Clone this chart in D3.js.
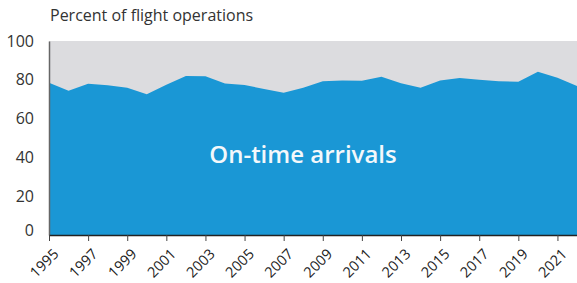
<!DOCTYPE html>
<html><head><meta charset="utf-8">
<script src="https://cdn.jsdelivr.net/npm/d3@7"></script>
<style>body{margin:0;background:#fff}svg{display:block}</style>
</head><body><svg id="c" width="577" height="283"></svg>
<script>
const years = [1995,1996,1997,1998,1999,2000,2001,2002,2003,2004,2005,2006,2007,2008,2009,2010,2011,2012,2013,2014,2015,2016,2017,2018,2019,2020,2021,2022];
const onTime = [78.5,74.3,77.9,77.2,75.9,72.5,77.4,82.0,81.8,78.1,77.3,75.3,73.3,75.9,79.3,79.6,79.5,81.6,78.2,75.9,79.7,80.9,80.0,79.3,79.0,84.2,81.1,76.8];
const yTicks = [0,20,40,60,80,100];
const xTicks = [1995,1997,1999,2001,2003,2005,2007,2009,2011,2013,2015,2017,2019,2021];
const title = "Percent of flight operations";
const areaLabel = "On-time arrivals";

const svg = d3.select("#c");
const font = "'Open Sans', sans-serif";
const x = d3.scaleLinear().domain([1995,2022]).range([49,577]);
const y = d3.scaleLinear().domain([0,100]).range([235,41]);

// background (100%)
svg.append("rect").attr("x",x(1995)).attr("y",y(100)).attr("width",x(2022)-x(1995)).attr("height",y(0)-y(100)).attr("fill","#dcdcdf");

const area = d3.area().x((d,i)=>x(years[i])).y0(y(0)).y1(d=>y(d));
svg.append("path").datum(onTime).attr("d",area).attr("fill","#1a97d5");

// y axis
const ya = svg.append("g").attr("transform",`translate(${x(1995)},0)`).call(d3.axisLeft(y).tickValues(yTicks).tickSize(0).tickPadding(15));
ya.select(".domain").attr("stroke","#666").attr("stroke-width",1.5);
ya.selectAll("text").attr("font-family",font).attr("font-size",16).attr("fill","#333").attr("dy",(d)=>d===0?"0.0em":"0.32em");

// x axis
const xa = svg.append("g").attr("transform",`translate(0,${y(0)})`).call(d3.axisBottom(x).tickValues(xTicks).tickFormat(d3.format("d")).tickSize(6).tickSizeOuter(0));
xa.select(".domain").attr("stroke","#222").attr("stroke-width",1.5);
xa.selectAll(".tick line").attr("stroke","#444");
xa.selectAll("text").attr("font-family",font).attr("font-size",14.5).attr("fill","#222")
  .attr("text-anchor","end").attr("y",0).attr("dy",0)
  .attr("transform","translate(10,20) rotate(-45)");

svg.append("text").attr("x",50).attr("y",21).attr("font-family",font).attr("font-size",16).attr("fill","#333").text(title);
svg.append("text").attr("x",303).attr("y",163).attr("text-anchor","middle").attr("font-family",font).attr("font-size",24).attr("font-weight",600).attr("fill","#f4f8fb").text(areaLabel);
</script></body></html>
